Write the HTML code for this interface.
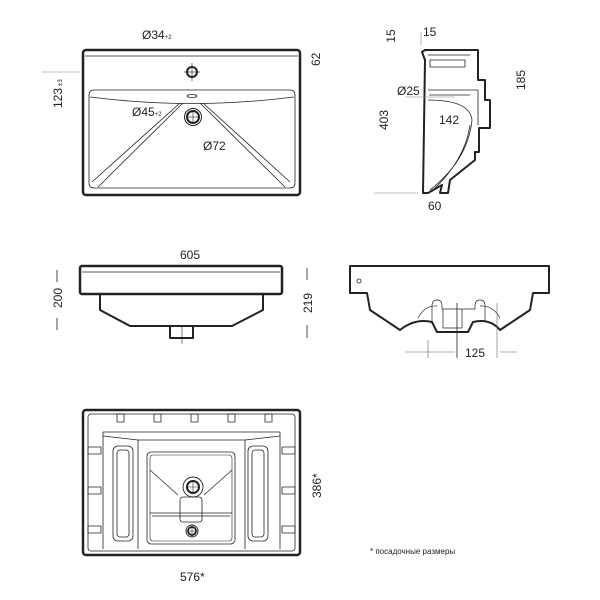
<!DOCTYPE html>
<html><head><meta charset="utf-8"><style>
html,body{margin:0;padding:0;background:#fff;width:600px;height:600px;overflow:hidden}
text{font-family:"Liberation Sans","DejaVu Sans",sans-serif;fill:#222}
</style></head><body>
<svg width="600" height="600" viewBox="0 0 600 600" xmlns="http://www.w3.org/2000/svg">
<g fill="none" stroke="#222" stroke-linejoin="round">
<!-- top view -->
<rect x="83" y="50" width="217" height="145" rx="3" stroke-width="2.5"/>
<line x1="85" y1="56" x2="298" y2="56" stroke-width="0.8"/>
<path d="M94 90 H290 Q295 90 295 95 V183 Q295 188 290 188 H94 Q89 188 89 183 V95 Q89 90 94 90Z" stroke-width="0.8"/>
<path d="M90 97 Q192 110 294 97" stroke-width="0.8"/>
<ellipse cx="192" cy="96" rx="5" ry="1.5" stroke-width="0.8"/>
<circle cx="192" cy="72" r="5" stroke-width="2"/>
<line x1="184" y1="72" x2="200" y2="72" stroke-width="0.6"/><line x1="192" y1="63" x2="192" y2="81" stroke-width="0.6"/>
<circle cx="193" cy="117" r="8.5" stroke-width="1"/><circle cx="193" cy="117" r="6" stroke-width="2"/>
<line x1="187" y1="117" x2="199" y2="117" stroke-width="0.6"/><line x1="193" y1="111" x2="193" y2="123" stroke-width="0.6"/>
<path d="M180 103 L92 182 M183 103 L98 187 M203 103 L290 182 M200 103 L285 187" stroke-width="0.8"/>
<line x1="42" y1="72" x2="80" y2="72" stroke-width="0.6" stroke="#888"/>
<!-- side view -->
<path d="M422 52 L425 50 H478 V80 H485 V100 H490 V128 H479 V152 H475 V160 L450 180 L448 193 H440 L442 185 L428 193 H423 L425 60 Z" stroke-width="2"/>
<path d="M428 55 H470 M430 60 H465 V67 H430Z M428 90 H478 V125 M429 95 H470 M428 100 Q470 100 472 120 Q468 160 430 190 M433 190 Q465 160 470 125" stroke-width="0.8"/>
<line x1="374" y1="193" x2="418" y2="193" stroke-width="0.6" stroke="#888"/>
<line x1="421" y1="32" x2="421" y2="45" stroke-width="0.6" stroke="#888"/>
<line x1="405" y1="97" x2="455" y2="97" stroke-width="0.6" stroke="#888"/>
<!-- front view -->
<rect x="80" y="266" width="202" height="28" rx="2" stroke-width="2.5"/>
<line x1="82" y1="272" x2="280" y2="272" stroke-width="0.8"/>
<path d="M100 294 V310 L130 326 H232 L263 310 V294" stroke-width="2"/>
<path d="M170 326 V338 H193 V326" stroke-width="2"/>
<line x1="182" y1="326" x2="182" y2="344" stroke-width="0.6"/>
<path d="M57 270 V282 M57 318 V330 M307 268 V280 M307 325 V338" stroke-width="0.8"/>
<!-- right view -->
<path d="M350 266 H549 V293 H533 L530 310 L500 330 Q490 318 473 322 L468 332 H437 L432 322 Q415 318 400 330 L370 310 L367 293 H350 Z" stroke-width="2"/>
<circle cx="359" cy="281" r="2" stroke-width="0.8"/>
<path d="M432 322 V306 Q432 300 437 300 Q442 300 442 306 V309 H475 V306 Q475 300 480 300 Q485 300 485 306 V322 M443 309 V328 H462 V309 M418 318 Q425 305 437 306 M500 318 Q493 305 480 306" stroke-width="0.7"/>
<line x1="428" y1="340" x2="428" y2="358" stroke-width="0.6" stroke="#666"/>
<line x1="457" y1="303" x2="457" y2="358" stroke-width="0.8"/>
<line x1="497" y1="303" x2="497" y2="358" stroke-width="0.6" stroke="#666"/>
<line x1="405" y1="352" x2="455" y2="352" stroke-width="0.6" stroke="#666"/><line x1="500" y1="352" x2="517" y2="352" stroke-width="0.6" stroke="#666"/>
<!-- bottom view -->
<rect x="83" y="410" width="217" height="145" rx="3" stroke-width="2.5"/>
<rect x="88" y="414" width="207" height="137" rx="3" stroke-width="0.8"/>
<path d="M103 432 H280 V549 M103 432 V549 M103 436 L138 440 H245 L280 436 M138 440 V549 M245 440 V549" stroke-width="0.8"/>
<rect x="113" y="446" width="20" height="95" rx="5" stroke-width="0.8"/><rect x="117" y="450" width="12" height="87" rx="3" stroke-width="0.8"/>
<rect x="248" y="446" width="20" height="95" rx="5" stroke-width="0.8"/><rect x="252" y="450" width="12" height="87" rx="3" stroke-width="0.8"/>
<rect x="147" y="452" width="88" height="92" rx="4" stroke-width="0.8"/><rect x="150" y="455" width="82" height="86" rx="3" stroke-width="0.6"/>
<path d="M150 470 L178 495 M232 470 L204 495 M150 513 H232 M152 516 H230" stroke-width="0.7"/>
<rect x="180" y="497" width="22" height="25" rx="3" stroke-width="0.8"/>
<circle cx="193" cy="487" r="10" stroke-width="0.9"/><circle cx="193" cy="487" r="6" stroke-width="2"/>
<circle cx="192" cy="531" r="6" stroke-width="0.9"/><circle cx="192" cy="531" r="4" stroke-width="1.8"/>
<path d="M187 487 H199 M193 481 V493 M186 531 H198 M192 525 V537" stroke-width="0.6"/>
<g stroke-width="0.8">
<rect x="117" y="414" width="7" height="8"/><rect x="154" y="414" width="7" height="8"/><rect x="191" y="414" width="7" height="8"/><rect x="228" y="414" width="7" height="8"/><rect x="265" y="414" width="7" height="8"/>
<rect x="88" y="447" width="13" height="7"/><rect x="88" y="487" width="13" height="7"/><rect x="88" y="526" width="13" height="7"/>
<rect x="282" y="447" width="13" height="7"/><rect x="282" y="487" width="13" height="7"/><rect x="282" y="526" width="13" height="7"/>
</g>
</g>
<g font-size="12">
<text x="142" y="39">Ø34<tspan font-size="6">+2</tspan></text>
<text x="132" y="116">Ø45<tspan font-size="6">+2</tspan></text>
<text x="203" y="150">Ø72</text>
<text transform="translate(320,66) rotate(-90)">62</text>
<text transform="translate(62,108) rotate(-90)">123<tspan font-size="6" dx="2">±3</tspan></text>
<text x="395" y="36" transform="rotate(-90 395 36)" text-anchor="middle">15</text>
<text x="423" y="36">15</text>
<text x="397" y="95">Ø25</text>
<text x="439" y="124">142</text>
<text transform="translate(388,130) rotate(-90)">403</text>
<text transform="translate(525,90) rotate(-90)">185</text>
<text x="428" y="210">60</text>
<text x="180" y="259">605</text>
<text transform="translate(62,308) rotate(-90)">200</text>
<text transform="translate(312,313) rotate(-90)">219</text>
<text x="465" y="357">125</text>
<text transform="translate(321,498) rotate(-90)">386*</text>
<text x="180" y="581">576*</text>
<text x="370" y="554" font-size="8">* посадочные размеры</text>
</g>
</svg>
</body></html>
